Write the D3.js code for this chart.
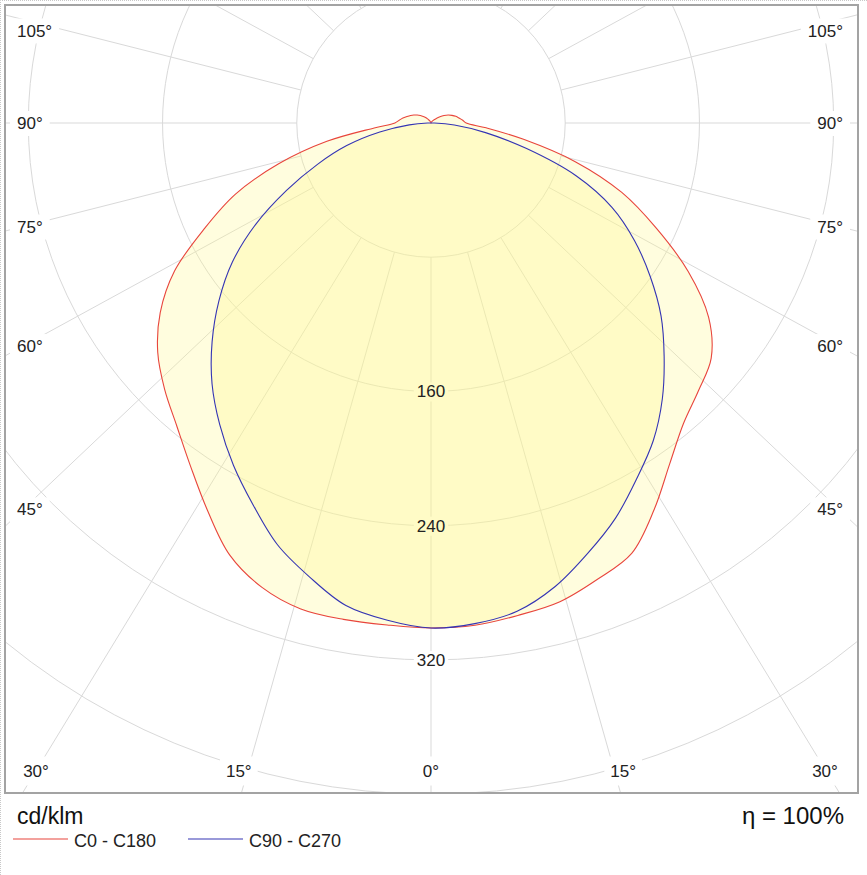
<!DOCTYPE html>
<html><head><meta charset="utf-8">
<script src="https://cdn.jsdelivr.net/npm/d3@7"></script>
<style>
body{margin:0;background:#fff;}
svg{display:block;font-family:"Liberation Sans",Arial,sans-serif;}
</style>
</head><body>
<svg id="chart" width="867" height="875"></svg>
<script>
// ---------- data (cd/klm), gamma measured from nadir ----------
const gammaAngles = d3.range(0, 181, 5);
const c0   = [301,300.5,298,295.5,289.5,283,266,248,234,225.5,218,202,177,148,121,89,56,33,21,19,17,15.3,13.3,11.3,9,6.5,4.2,3,2,1.5,1,0.8,0.5,0.3,0.2,0.1,0];
const c180 = [300.7,300.3,300.4,299.8,294.5,284,266.5,249.8,235.7,224.5,212.6,197,176.5,149,124,94,63,34,21.5,19,17,14.8,13,11.3,9.5,7.7,6,4.6,3.2,2.2,1.5,1,0.6,0.4,0.2,0.1,0];
const c90  = [301,299.5,295.5,286,273,260,245,231,214.5,196.5,179,159.5,140,119,92,59,33,14,2,0,0,0,0,0,0,0,0,0,0,0,0,0,0,0,0,0,0];
const c270 = [301,297.5,292,280,267.5,251,235.5,219.5,203,184.5,165,144.5,120.5,95,72,52,31,13,2,0,0,0,0,0,0,0,0,0,0,0,0,0,0,0,0,0,0];
const ringValues  = [80,160,240,320,400,480];
const ringLabels  = [160,240,320];
const spokeAngles = d3.range(0, 360, 15);
const angleLabels = [0,15,30,45,60,75,90,105];
const unitLabel = "cd/klm";
const etaLabel  = "η = 100%";
const legendNames = ["C0 - C180", "C90 - C270"];
const seriesColors = ["#e8453c", "#3434b4"];

// ---------- layout ----------
const W = 867, H = 875;
const frame = {x:5, y:5, w:853, h:788};
const cx = 431, cy = 123;
const stretch = 1.056;
const r = d3.scaleLinear().domain([0, 480]).range([0, 805.4]);
const rad = d => d * Math.PI / 180;

const svg = d3.select("#chart");
svg.append("rect").attr("width", W).attr("height", H).attr("fill", "#fff");

// outer dotted edge (top & left)
svg.append("path").attr("d", `M0.5,${H} V0.5 H${W}`)
  .attr("fill", "none").attr("stroke", "#c8c8c8").attr("stroke-dasharray", "1,1");

svg.append("clipPath").attr("id", "clip").append("rect")
  .attr("x", frame.x + 1).attr("y", frame.y + 1).attr("width", frame.w - 2).attr("height", frame.h - 2);

const grid = svg.append("g").attr("clip-path", "url(#clip)");
const plot = grid.append("g").attr("transform", `translate(${cx},${cy})`);

// rings
plot.selectAll("circle.ring").data(ringValues).join("circle")
  .attr("r", d => r(d)).attr("fill", "none").attr("stroke", "#d9d9d9").attr("stroke-width", 1);

// spokes
plot.selectAll("line.spoke").data(spokeAngles).join("line")
  .each(function(a) {
    let dx = stretch * Math.sin(rad(a)), dy = Math.cos(rad(a));
    const n = Math.hypot(dx, dy); dx /= n; dy /= n;
    d3.select(this)
      .attr("x1", dx * r(ringValues[0])).attr("y1", dy * r(ringValues[0]))
      .attr("x2", dx * 1400).attr("y2", dy * 1400);
  })
  .attr("stroke", "#d9d9d9").attr("stroke-width", 1);

// helper: label with background (background and text may go to different layers)
function bgLabel(bgLayer, txtLayer, txt, x, y, anchor, size, padX, padY) {
  const t = txtLayer.append("text").attr("x", x).attr("y", y).attr("text-anchor", anchor)
    .attr("font-size", size).attr("fill", "#222").text(txt);
  const b = t.node().getBBox();
  bgLayer.append("rect").attr("x", b.x - padX).attr("y", b.y - padY)
    .attr("width", b.width + 2 * padX).attr("height", b.height + 2 * padY).attr("fill", "#fff");
}

const ringBg = svg.append("g");

// ---------- curves ----------
function curvePoints(right, left) {
  const pts = gammaAngles.map((g, i) => ({a: Math.PI - rad(g), v: right[i]}));
  for (let i = gammaAngles.length - 2; i >= 1; i--) pts.push({a: Math.PI + rad(gammaAngles[i]), v: left[i]});
  return pts;
}
const radial = d3.lineRadial().angle(d => d.a).radius(d => r(d.v))
  .curve(d3.curveCatmullRomClosed.alpha(0.5));
const series = [curvePoints(c0, c180), curvePoints(c90, c270)];

const curves = svg.append("g").attr("transform", `translate(${cx},${cy})`);
curves.selectAll("path.fill").data(series).join("path")
  .attr("d", radial).attr("fill", "rgb(255,247,140)").attr("fill-opacity", 0.29);
curves.selectAll("path.line").data(series).join("path")
  .attr("d", radial).attr("fill", "none")
  .attr("stroke", (d, i) => seriesColors[i]).attr("stroke-width", 1.1);

// ring labels: white box under the fills, text on top
const ringTxt = svg.append("g");
ringLabels.forEach(v => bgLabel(ringBg, ringTxt, String(v), cx, cy + r(v) + 6, "middle", 17, 3, 0));

// ---------- angle labels ----------
const angBg = svg.append("g");
const angTxt = svg.append("g");
angleLabels.forEach(a => {
  const sides = a === 0 ? [1] : [-1, 1];
  sides.forEach(side => {
    if (a <= 30) {
      const yc = 770.5;
      const tn = stretch * Math.tan(rad(a));
      let x = cx + side * ((yc - cy) * tn + (a > 0 ? 9 : 0));
      x = Math.max(36, Math.min(825, x));
      bgLabel(angBg, angTxt, a + "°", x, yc + 6, "middle", 17, 6, 5);
    } else {
      const xRef = side < 0 ? 23 : 839;
      const dx = Math.abs(xRef - cx);
      let yc = cy + dx / (stretch * Math.tan(rad(a)));
      yc = Math.max(30.5, yc);
      const xt = side < 0 ? 17 : 843;
      bgLabel(angBg, angTxt, a + "°", xt, yc + 6, side < 0 ? "start" : "end", 17, 7, 3);
    }
  });
});

// frame
svg.append("rect").attr("x", frame.x).attr("y", frame.y).attr("width", frame.w).attr("height", frame.h)
  .attr("fill", "none").attr("stroke", "#a3a3a3").attr("stroke-width", 2);

// ---------- footer ----------
svg.append("text").attr("x", 17).attr("y", 824).attr("font-size", 23).attr("fill", "#111").text(unitLabel);
svg.append("text").attr("x", 844).attr("y", 824).attr("text-anchor", "end").attr("font-size", 24).attr("fill", "#111").text(etaLabel);

const legendX = [13, 188];
legendNames.forEach((name, i) => {
  svg.append("line").attr("x1", legendX[i]).attr("x2", legendX[i] + 55).attr("y1", 839).attr("y2", 839)
    .attr("stroke", seriesColors[i]).attr("stroke-width", 1.2);
  svg.append("text").attr("x", legendX[i] + 61).attr("y", 846.5).attr("font-size", 18).attr("fill", "#222").text(name);
});
</script>
</body></html>
